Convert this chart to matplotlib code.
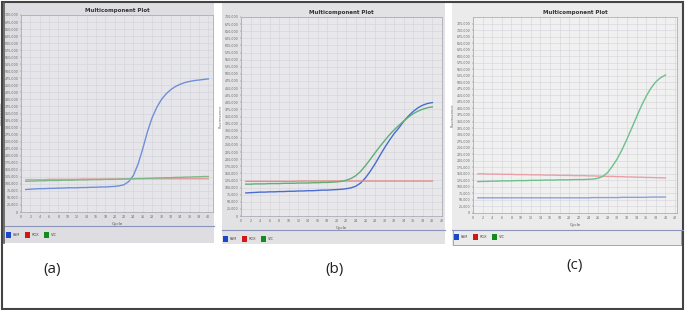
import matplotlib
matplotlib.use("Agg")
import matplotlib.pyplot as plt
from matplotlib.patches import Rectangle
from matplotlib.lines import Line2D

W, H = 685, 310

cycles = list(range(1, 41))

# panel (a) - values in thousands of fluorescence units
fam_a = [80, 81, 82, 83, 83, 84, 84, 85, 85, 86, 86, 86, 87, 87, 88, 88, 89, 89, 90, 91,
         93, 97, 108, 130, 170, 225, 285, 335, 372, 400, 420, 435, 446, 454, 460, 464, 467, 469, 471, 473]
rox_a = [115, 115, 115, 115, 115, 116, 116, 116, 116, 116, 116, 116, 117, 117, 117, 117, 117, 117, 117, 117,
         117, 118, 118, 118, 118, 118, 118, 118, 118, 118, 118, 118, 118, 118, 118, 118, 118, 118, 118, 118]
vic_a = [109, 110, 110, 111, 111, 112, 112, 112, 113, 113, 113, 114, 114, 114, 115, 115, 115, 116, 116, 116,
         117, 117, 118, 118, 119, 119, 120, 120, 121, 121, 122, 122, 123, 123, 124, 124, 125, 125, 126, 126]

# panel (b)
fam_b = [81, 82, 83, 84, 84, 85, 85, 86, 86, 87, 87, 88, 88, 89, 89, 90, 91, 91, 92, 93,
         94, 96, 99, 105, 116, 134, 157, 183, 212, 240, 266, 290, 310, 333, 352, 368, 381, 390, 396, 399]
rox_b = [122, 122, 122, 122, 122, 122, 122, 122, 122, 122, 122, 123, 123, 123, 123, 123, 123, 123, 123, 123,
         123, 123, 123, 123, 123, 123, 123, 123, 123, 123, 123, 123, 123, 123, 123, 123, 123, 123, 123, 123]
vic_b = [112, 112, 113, 113, 113, 114, 114, 114, 115, 115, 115, 116, 116, 116, 117, 117, 118, 118, 119, 120,
         122, 126, 132, 142, 157, 177, 199, 222, 244, 265, 285, 303, 319, 334, 348, 360, 369, 376, 381, 384]

# panel (c)
fam_c = [58, 58, 58, 58, 58, 58, 58, 58, 58, 58, 58, 58, 58, 58, 58, 58, 58, 58, 58, 58,
         58, 58, 58, 58, 59, 59, 59, 59, 59, 59, 60, 60, 60, 60, 60, 60, 61, 61, 61, 61]
rox_c = [150, 150, 149, 149, 149, 148, 148, 148, 147, 147, 147, 146, 146, 146, 145, 145, 145, 144, 144, 144,
         143, 143, 143, 142, 142, 141, 141, 140, 140, 139, 139, 138, 138, 137, 137, 136, 136, 135, 135, 134]
vic_c = [120, 121, 121, 122, 122, 123, 123, 123, 124, 124, 124, 125, 125, 125, 126, 126, 126, 127, 127, 127,
         128, 128, 128, 129, 130, 133, 140, 155, 180, 208, 243, 283, 325, 368, 410, 447, 478, 502, 518, 528]

panel_labels = ["(a)", "(b)", "(c)"]
legend_names = ["FAM", "ROX", "VIC"]
legend_colors = ["#1a48c8", "#d01818", "#148a20"]


def rect(x0, y0, x1, y1):
    return [x0 / W, 1 - y1 / H, (x1 - x0) / W, (y1 - y0) / H]


fig = plt.figure(figsize=(W / 100, H / 100), dpi=100)
fig.patch.set_facecolor("white")

# photo backgrounds of the three screenshots
photos = [(5, 3, 214, 243, "#dedee2"), (222, 3, 445, 244, "#e2e2e4"), (452, 3, 683, 246, "#ebebec")]
for x0, y0, x1, y1, c in photos:
    fig.patches.append(Rectangle((x0 / W, 1 - y1 / H), (x1 - x0) / W, (y1 - y0) / H,
                                 transform=fig.transFigure, facecolor=c, edgecolor="none", zorder=-5))

panels = [
    dict(box=(21, 15, 213, 212), xmax=41, ymax=700, top=700, series=(fam_a, rox_a, vic_a),
         colors=("#6f8fd8", "#e59a98", "#7ab88a"), bg="#e6e6ea", sep=226, leg=(6, 235), px0=5, px1=214),
    dict(box=(241, 17, 442, 216), xmax=42, ymax=700, top=700, series=(fam_b, rox_b, vic_b),
         colors=("#4a6cd0", "#e58a86", "#5fae78"), bg="#e8e8ea", sep=230, leg=(223, 239), px0=222, px1=445),
    dict(box=(473, 17, 677, 213), xmax=42.4, ymax=750, top=725, series=(fam_c, rox_c, vic_c),
         colors=("#8aa2d8", "#e8a0a6", "#6cc08c"), bg="#f0f0f1", sep=230, leg=(454, 237), px0=452, px1=683),
]

for p in panels:
    ax = fig.add_axes(rect(*p["box"]))
    ax.set_zorder(3)
    ax.set_facecolor(p["bg"])
    for s, c in zip(p["series"], p["colors"]):
        ax.plot(cycles, [v * 1000 for v in s], color=c, lw=1.0)
    ax.set_xlim(0, p["xmax"])
    ax.set_ylim(0, p["ymax"] * 1000)
    ax.set_xticks(range(0, int(p["xmax"]) + 1, 2))
    ax.set_yticks(range(0, p["top"] * 1000 + 1, 25000))
    ax.set_yticklabels([f"{v:,}" for v in range(0, p["top"] * 1000 + 1, 25000)])
    ax.tick_params(labelsize=2.3, colors="#666666", length=1, width=0.3, pad=1)
    ax.grid(True, color="#d2d2da", lw=0.4)
    for sp in ax.spines.values():
        sp.set_color("#a4a4b2")
        sp.set_linewidth(0.5)
    ax.set_xlabel("Cycle", fontsize=3, color="#555555", labelpad=2)
    ax.set_ylabel("Fluorescence", fontsize=2.5, color="#666666", labelpad=1)
    ax.set_title("Multicomponent Plot", fontsize=4, fontweight="bold", color="#333333", pad=2)

    # separator line and legend strip under the plot
    fig.add_artist(Line2D([p["px0"] / W, p["px1"] / W], [1 - p["sep"] / H] * 2,
                          color="#8a94b8", lw=0.8, transform=fig.transFigure))
    lx, ly = p["leg"]
    for name, c in zip(legend_names, legend_colors):
        fig.patches.append(Rectangle((lx / W, 1 - (ly + 3) / H), 5 / W, 6 / H,
                                     transform=fig.transFigure, facecolor=c, edgecolor="none"))
        fig.text((lx + 7) / W, 1 - ly / H, name, fontsize=2.6, color="#555555", va="center")
        lx += 19

# legend box of panel (c)
fig.patches.append(Rectangle((453 / W, 1 - 245 / H), 228 / W, 15 / H, transform=fig.transFigure,
                             facecolor="none", edgecolor="#9a9aa6", lw=0.6))

# panel letters under the screenshots
for label, (x, y) in zip(panel_labels, [(52, 270), (335, 270), (575, 266)]):
    fig.text(x / W, 1 - y / H, label, fontsize=11, ha="center", va="center",
             family="Open Sans", color="#222222")

# outer frame and dark strip on the left of panel (a)
fig.patches.append(Rectangle((2 / W, 1 / H), (W - 4) / W, (H - 3) / H, transform=fig.transFigure,
                             facecolor="none", edgecolor="#444444", lw=1.5))
fig.add_artist(Line2D([4 / W, 4 / W], [1 - 3 / H, 1 - 243 / H], color="#555555", lw=1.2,
                      transform=fig.transFigure))

fig.savefig("out.png", dpi=100)
